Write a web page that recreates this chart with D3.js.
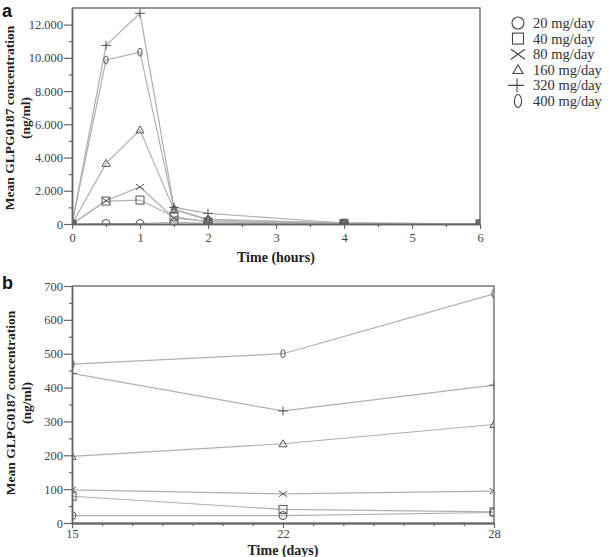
<!DOCTYPE html>
<html>
<head>
<meta charset="utf-8">
<script src="https://cdn.jsdelivr.net/npm/d3@7"></script>
<style>
  body { margin: 0; background: #fff; }
  svg { display: block; }
</style>
</head>
<body>
<svg id="chart" width="609" height="557"></svg>
<script>
// ---- data ----
var doses = ["20 mg/day", "40 mg/day", "80 mg/day", "160 mg/day", "320 mg/day", "400 mg/day"];
var markers = ["circle", "square", "cross", "triangle", "plus", "oval"];

// panel a: single dose, hours after dosing
var hours = [0, 0.5, 1, 1.5, 2, 4, 6];
var hourTicks = [0, 1, 2, 3, 4, 5, 6];
var concA20 = [0, 30, 30, 100, 40, 10, 5];
var concA40 = [0, 1380, 1440, 440, 120, 40, 10];
var concA80 = [0, 1400, 2230, 350, 150, 40, 10];
var concA160 = [0, 3650, 5660, 850, 250, 50, 10];
var concA320 = [0, 10750, 12680, 1000, 640, 60, 10];
var concA400 = [0, 9870, 10340, 900, 280, 50, 10];
var yTicksA = [0, 2000, 4000, 6000, 8000, 10000, 12000];

// panel b: trough levels, days
var days = ["15", "22", "28"];
var concB20 = [22, 22, 31];
var concB40 = [79, 40, 33];
var concB80 = [98, 86, 94];
var concB160 = [197, 234, 291];
var concB320 = [442, 331, 407];
var concB400 = [469, 500, 677];
var yTicksB = [0, 100, 200, 300, 400, 500, 600, 700];

var seriesA = [concA20, concA40, concA80, concA160, concA320, concA400];
var seriesB = [concB20, concB40, concB80, concB160, concB320, concB400];

var svg = d3.select("#chart");
var serif = "'Liberation Serif', 'Times New Roman', serif";
var lineCol = "#b0b0b0", markCol = "#555";

var euro = d3.formatLocale({decimal: ",", thousands: ".", grouping: [3], currency: ["", ""]}).format(",");

// draws a marker shape centred at 0,0 ; s = half size
function marker(g, type, s) {
    if (type == "circle") {
        g.append("circle").attr("r", s);
    } else if (type == "square") {
        g.append("rect").attr("x", -s).attr("y", -s).attr("width", 2*s).attr("height", 2*s);
    } else if (type == "cross") {
        g.append("path").attr("d", "M" + (-s) + "," + (-s*0.7) + "L" + s + "," + (s*0.7) +
            "M" + (-s) + "," + (s*0.7) + "L" + s + "," + (-s*0.7));
    } else if (type == "triangle") {
        g.append("path").attr("d", "M0," + (-s) + "L" + s + "," + (s*0.75) + "L" + (-s) + "," + (s*0.75) + "Z");
    } else if (type == "plus") {
        g.append("path").attr("d", "M" + (-s*1.1) + ",0H" + (s*1.1) + "M0," + (-s) + "V" + s);
    } else if (type == "oval") {
        g.append("ellipse").attr("rx", s*0.55).attr("ry", s);
    }
}

function panel(opt) {
    var x = opt.x, y = opt.y;
    var x0 = x.range()[0], x1 = x.range()[x.range().length - 1];
    var yb = y.range()[0], yt = y.range()[1];

    var clipId = "clip" + opt.name;
    svg.append("clipPath").attr("id", clipId)
        .append("rect").attr("x", x0).attr("y", yt).attr("width", x1 - x0).attr("height", yb - yt);

    // frame top & right
    svg.append("path")
        .attr("d", "M" + x0 + "," + yt + "H" + x1 + "V" + yb)
        .attr("fill", "none").attr("stroke", "#777").attr("stroke-width", 1.5);

    var marks = svg.append("g").attr("clip-path", "url(#" + clipId + ")");
    var line = d3.line().x(function (d) { return opt.px(d[0]); }).y(function (d) { return y(d[1]); });

    opt.series.forEach(function (vals, k) {
        var pts = vals.map(function (v, i) { return [opt.xs[i], v]; });
        marks.append("path").datum(pts)
            .attr("d", line)
            .attr("fill", "none").attr("stroke", lineCol).attr("stroke-width", 1.2);
    });
    opt.series.forEach(function (vals, k) {
        vals.forEach(function (v, i) {
            var g = marks.append("g")
                .attr("transform", "translate(" + opt.px(opt.xs[i]) + "," + y(v) + ")")
                .attr("fill", "none").attr("stroke", markCol).attr("stroke-width", 1);
            marker(g, markers[k], k == 4 ? 4.5 : 4);
        });
    });

    // y axis
    svg.append("g").attr("transform", "translate(" + x0 + ",0)")
        .call(d3.axisLeft(y).tickValues(opt.yTicks).tickFormat(opt.yFmt).tickSize(8).tickSizeOuter(0).tickPadding(1));
    svg.append("g").attr("transform", "translate(" + x0 + ",0)")
        .call(d3.axisLeft(y).tickValues(opt.yMinor).tickFormat("").tickSize(3).tickSizeOuter(0));

    // x axis
    var xAx = svg.append("g").attr("transform", "translate(0," + yb + ")")
        .call(d3.axisBottom(opt.xAxisScale).tickValues(opt.xTicks).tickFormat(opt.xFmt).tickSize(5).tickSizeOuter(0).tickPadding(opt.xPad));
    svg.append("g").attr("transform", "translate(0," + yb + ")")
        .call(d3.axisBottom(opt.xMinorScale).tickValues(opt.xMinor).tickFormat("").tickSize(3).tickSizeOuter(0));

    svg.selectAll(".domain").attr("stroke", "#666").attr("stroke-width", 1.5);
    svg.selectAll(".tick line").attr("stroke", "#666").attr("stroke-width", 1.2);
    xAx.select(".domain").attr("stroke", "#555").attr("stroke-width", 2.2);
    svg.selectAll(".tick text")
        .attr("font-family", serif).style("font-family", serif)
        .style("font-size", "12.5px").attr("fill", "#444");

    // y label (two lines)
    var ly = svg.append("text")
        .attr("transform", "translate(" + opt.yLabX + "," + opt.yLabY + ") rotate(-90)")
        .attr("text-anchor", "middle")
        .style("font-family", serif).style("font-weight", "bold").style("font-size", opt.yLabSize + "px")
        .attr("fill", "#222");
    ly.append("tspan").attr("x", 0).attr("y", 0).text("Mean GLPG0187 concentration");
    ly.append("tspan").attr("x", 0).attr("y", opt.yLabSize + 2).text("(ng/ml)");

    svg.append("text")
        .attr("x", (x0 + x1) / 2).attr("y", opt.xLabY)
        .attr("text-anchor", "middle")
        .style("font-family", serif).style("font-weight", "bold").style("font-size", "14px")
        .attr("fill", "#222")
        .text(opt.xLabel);

    svg.append("text")
        .attr("x", 2).attr("y", opt.letterY)
        .style("font-family", "'Liberation Sans', Arial, sans-serif").style("font-weight", "bold").style("font-size", "18px")
        .attr("fill", "#111")
        .text(opt.name);
}

// ---- panel a ----
var xA = d3.scaleLinear().domain([0, 6]).range([72, 480]);
var yA = d3.scaleLinear().domain([0, 13000]).range([224, 8]);
panel({
    name: "a", x: xA, y: yA, px: xA, xs: hours, series: seriesA,
    yTicks: yTicksA, yMinor: d3.range(1000, 13000, 2000),
    yFmt: function (d) { return euro(d); }, xFmt: d3.format("d"), xPad: 4,
    xAxisScale: xA, xTicks: hourTicks, xMinorScale: xA, xMinor: d3.range(0.5, 6, 1),
    yLabX: 14, yLabY: 118, yLabSize: 13.5, xLabY: 262, xLabel: "Time (hours)", letterY: 17
});

// ---- panel b ----
var xB = d3.scalePoint().domain(days).range([72, 494]);
var xBi = d3.scaleLinear().domain([0, days.length - 1]).range([72, 494]);
var yB = d3.scaleLinear().domain([0, 700]).range([523, 286]);
var minorB = [];
for (var i = 0; i < days.length - 1; i++) for (var k = 1; k < 7; k++) minorB.push(i + k / 7);
panel({
    name: "b", x: xB, y: yB, px: function (d) { return xB(d); }, xs: days, series: seriesB,
    yTicks: yTicksB, yMinor: d3.range(50, 700, 100),
    yFmt: function (d) { return d; }, xFmt: function (d) { return d; }, xPad: 1,
    xAxisScale: xB, xTicks: days, xMinorScale: xBi, xMinor: minorB,
    yLabX: 15, yLabY: 403, yLabSize: 13.5, xLabY: 555, xLabel: "Time (days)", letterY: 289
});

// ---- legend ----
var legend = svg.append("g").attr("transform", "translate(518,23)");
doses.forEach(function (name, k) {
    var row = legend.append("g").attr("transform", "translate(0," + (k * 15.6) + ")");
    var g = row.append("g").attr("fill", "none").attr("stroke", "#444").attr("stroke-width", 1.1);
    if (k == 0) marker(g, "circle", 6);
    else if (k == 1) marker(g, "square", 5.5);
    else if (k == 2) g.append("path").attr("d", "M-7,-5L7,5M-7,5L7,-5");
    else if (k == 3) marker(g, "triangle", 5);
    else if (k == 4) g.append("path").attr("d", "M-10,0H6M-1,-7V7");
    else marker(g, "oval", 6.5);
    row.append("text").attr("x", 15).attr("y", 5)
        .style("font-family", serif).style("font-size", "14.5px").attr("fill", "#333")
        .text(name);
});
</script>
</body>
</html>
